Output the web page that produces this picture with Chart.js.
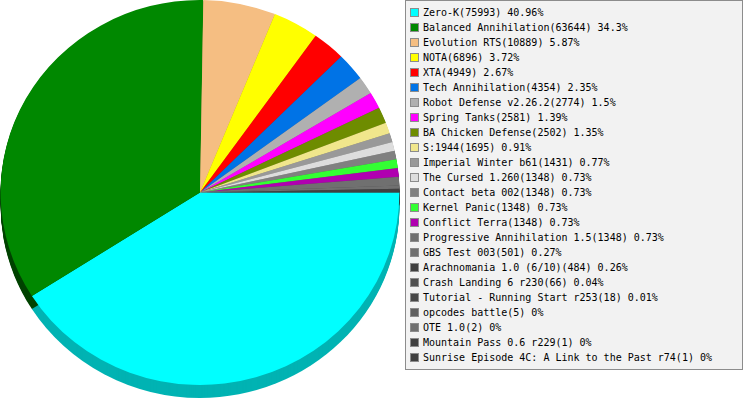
<!DOCTYPE html>
<html>
<head>
<meta charset="utf-8">
<script src="https://cdn.jsdelivr.net/npm/chart.js@4.4.0/dist/chart.umd.min.js"></script>
<style>
  html, body { margin: 0; padding: 0; background: #fff; }
  #wrap { position: relative; width: 743px; height: 400px; }
  #pie { position: absolute; left: 0; top: 0; }
  #legend {
    position: absolute; left: 405px; top: 0; width: 336px; height: 368px;
    background: #f2f2f2; border: 1px solid #8c8c8c;
    font-family: "DejaVu Sans Mono", monospace; font-size: 10px; color: #000;
  }
  .row { position: absolute; left: 0; height: 15px; line-height: 15px; white-space: pre; }
  .sw { position: absolute; left: 4px; top: 3px; width: 7px; height: 7px; border: 1px solid #8c8c8c; }
  .txt { position: absolute; left: 17px; top: 0; }
</style>
</head>
<body>
<div id="wrap">
  <canvas id="pie" width="743" height="400"></canvas>
  <div id="legend"></div>
</div>
<script>

// pie data
const games = [
  'Zero-K', 'Balanced Annihilation', 'Evolution RTS', 'NOTA', 'XTA',
  'Tech Annihilation', 'Robot Defense v2.26.2', 'Spring Tanks', 'BA Chicken Defense', 'S:1944',
  'Imperial Winter b61', 'The Cursed 1.260', 'Contact beta 002', 'Kernel Panic', 'Conflict Terra',
  'Progressive Annihilation 1.5', 'GBS Test 003', 'Arachnomania 1.0 (6/10)', 'Crash Landing 6 r230',
  'Tutorial - Running Start r253', 'opcodes battle', 'OTE 1.0', 'Mountain Pass 0.6 r229',
  'Sunrise Episode 4C: A Link to the Past r74'
];
const counts = [
  75993, 63644, 10889, 6896, 4949,
  4354, 2774, 2581, 2502, 1695,
  1431, 1348, 1348, 1348, 1348,
  1348, 501, 484, 66,
  18, 5, 2, 1,
  1
];
const percents = [
  '40.96%', '34.3%', '5.87%', '3.72%', '2.67%',
  '2.35%', '1.5%', '1.39%', '1.35%', '0.91%',
  '0.77%', '0.73%', '0.73%', '0.73%', '0.73%',
  '0.73%', '0.27%', '0.26%', '0.04%',
  '0.01%', '0%', '0%', '0%',
  '0%'
];
const colors = [
  '#00ffff', '#008800', '#f5be82', '#ffff00', '#ff0000',
  '#0073e6', '#b0b0b0', '#ff00ff', '#6e8c00', '#f0e68c',
  '#999999', '#dddddd', '#808080', '#33ff33', '#b000b0',
  '#707070', '#707070', '#404040', '#505050',
  '#484848', '#606060', '#707070', '#404040',
  '#404040'
];

function darken(hex, f) {
  const n = parseInt(hex.slice(1), 16);
  const r = Math.round(((n >> 16) & 255) * f);
  const g = Math.round(((n >> 8) & 255) * f);
  const b = Math.round((n & 255) * f);
  return 'rgb(' + r + ',' + g + ',' + b + ')';
}

const DEPTH = 13;
const SX = 1.036; // pie is a bit wider than tall

// stretch + 3d side of the pie
const pie3d = {
  id: 'pie3d',
  beforeDatasetsDraw(chart) {
    const ctx = chart.ctx;
    const arcs = chart.getDatasetMeta(0).data;
    const cx = arcs[0].x, cy = arcs[0].y;
    ctx.save();
    ctx.translate(cx, cy);
    ctx.scale(SX, 1);
    ctx.translate(-cx, -cy);
    arcs.forEach(function (a, i) {
      ctx.fillStyle = darken(colors[i], i === 1 ? 0.5 : 0.7);
      for (let d = DEPTH; d >= 1; d--) {
        ctx.beginPath();
        ctx.moveTo(a.x, a.y + d);
        ctx.arc(a.x, a.y + d, a.outerRadius, a.startAngle, a.endAngle);
        ctx.closePath();
        ctx.fill();
      }
    });
  },
  afterDatasetsDraw(chart) {
    chart.ctx.restore();
  }
};

const config = {
  type: 'pie',
  data: {
    labels: games,
    datasets: [{
      data: counts,
      backgroundColor: colors,
      borderWidth: 0
    }]
  },
  options: {
    responsive: false,
    animation: false,
    rotation: 90,
    layout: { padding: { left: 0, top: 0, right: 343, bottom: 15 } },
    plugins: {
      legend: { display: false },
      tooltip: { enabled: false }
    }
  },
  plugins: [pie3d]
};

document.addEventListener('DOMContentLoaded', function () {
  const legend = document.getElementById('legend');
  games.forEach(function (g, i) {
    const row = document.createElement('div');
    row.className = 'row';
    row.style.top = (4 + i * 15) + 'px';
    row.innerHTML = '<span class="sw" style="background:' + colors[i] + '"></span>';
    const t = document.createElement('span');
    t.className = 'txt';
    t.textContent = g + '(' + counts[i] + ') ' + percents[i];
    row.appendChild(t);
    legend.appendChild(row);
  });

  const canvaPie = document.getElementById('pie').getContext('2d');
  const chart1 = new Chart(canvaPie, config);
});
</script>
</body>
</html>
